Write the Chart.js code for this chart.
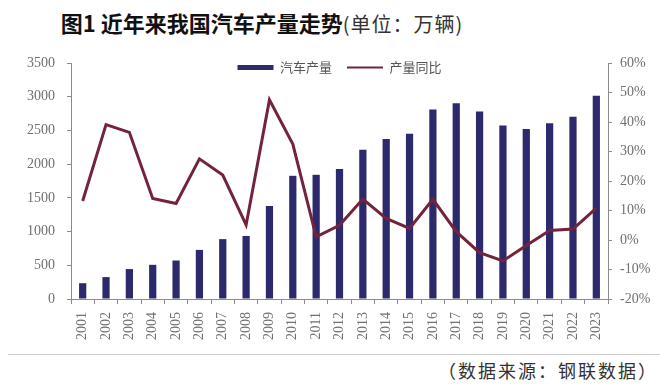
<!DOCTYPE html>
<html>
<head>
<meta charset="utf-8">
<script src="https://cdn.jsdelivr.net/npm/chart.js@4/dist/chart.umd.min.js"></script>
<style>
  html, body { margin: 0; padding: 0; background: #fff; }
  #page { position: relative; width: 660px; height: 390px; overflow: hidden; }
  #title {
    position: absolute; left: 0; top: 6px; width: 660px; text-align: center;
    font-family: "Noto Sans CJK SC", sans-serif; font-size: 22px; font-weight: bold; color: #111;
    margin-left: -68px;
  }
  #title span { font-weight: normal; font-size: 20px; color: #333; letter-spacing: 1px; }
  #chartBox { position: absolute; left: 0; top: 40px; width: 660px; height: 310px; }
  #rule { position: absolute; left: 8px; right: 0; top: 354px; border-top: 1px solid #cfcfcf; }
  #source {
    position: absolute; right: 2px; top: 357px; letter-spacing: 2px;
    font-family: "Noto Sans CJK SC", sans-serif; font-size: 18px; color: #333;
  }
</style>
</head>
<body>
<div id="page">
  <div id="title">图1 近年来我国汽车产量走势<span>(单位：万辆)</span></div>
  <div id="chartBox"><canvas id="chart"></canvas></div>
  <div id="rule"></div>
  <div id="source">（数据来源：钢联数据）</div>
</div>
<script>
// --- data ---
const years = ['2001', '2002', '2003', '2004', '2005', '2006', '2007', '2008', '2009', '2010', '2011', '2012',
               '2013', '2014', '2015', '2016', '2017', '2018', '2019', '2020', '2021', '2022', '2023'];
const output = [234, 325, 444, 507, 571, 728, 888, 935, 1379, 1827, 1842, 1927,
                2212, 2372, 2450, 2812, 2902, 2781, 2572, 2523, 2608, 2702, 3016];
const growth = [13.2, 39.1, 36.5, 14.1, 12.4, 27.5, 22.0, 5.1, 47.5, 32.5, 1.1, 5.0,
                13.9, 7.3, 3.9, 13.8, 2.8, -4.3, -7.1, -1.9, 3.2, 3.7, 10.8];

Chart.defaults.font.family = 'Liberation Serif';
const tickFont = { family: 'Liberation Serif', size: 14 };
const tickColor = '#707070';
const axisColor = '#8c8c8c';

// legend sits inside the plot area, just under its top edge
const legendInside = {
    id: 'legendInside',
    beforeInit(chart) {
        const legend = chart.legend;
        const fit = legend.fit;
        legend.fit = function () { fit.call(this); this.height = 0; };
    },
    afterLayout(chart) {
        const legend = chart.legend;
        legend.top = chart.chartArea.top - 17;
        legend.bottom = legend.top + 40;
    }
};

new Chart(document.getElementById('chart'), {
    type: 'bar',
    data: {
        labels: years,
        datasets: [{
            type: 'bar',
            label: '汽车产量',
            data: output,
            yAxisID: 'y',
            backgroundColor: '#2c2a6c',
            pointStyle: 'rect',
            barPercentage: 0.31,
            categoryPercentage: 1,
            order: 2
        }, {
            type: 'line',
            label: '产量同比',
            data: growth,
            yAxisID: 'y1',
            borderColor: '#74243a',
            backgroundColor: '#74243a',
            borderWidth: 3,
            pointRadius: 0,
            pointStyle: 'line',
            pointBorderWidth: 2,
            tension: 0,
            order: 1
        }]
    },
    options: {
        responsive: true,
        maintainAspectRatio: false,
        animation: false,
        layout: { padding: { top: 23, left: 0, right: 0, bottom: 0 } },
        plugins: {
            legend: {
                fullSize: false,
                labels: {
                    usePointStyle: true,
                    pointStyleWidth: 36,
                    boxHeight: 5,
                    padding: 15,
                    color: '#555',
                    font: { family: 'Noto Sans CJK SC', size: 13 },
                    sort: (a, b) => a.datasetIndex - b.datasetIndex
                }
            },
            tooltip: { enabled: false }
        },
        scales: {
            x: {
                grid: { display: true, drawOnChartArea: false, offset: true, tickLength: 5, color: axisColor },
                border: { color: axisColor },
                ticks: { color: tickColor, font: tickFont, minRotation: 90, maxRotation: 90, padding: 8, autoSkip: false },
                afterFit: (scale) => { scale.height = 51; }
            },
            y: {
                position: 'left',
                min: 0,
                max: 3500,
                grid: { drawOnChartArea: false, tickLength: 4, color: axisColor },
                border: { color: axisColor },
                ticks: { stepSize: 500, color: tickColor, font: tickFont, padding: 12, callback: (v) => String(v) },
                afterFit: (scale) => { scale.width = 71; }
            },
            y1: {
                position: 'right',
                min: -20,
                max: 60,
                grid: { drawOnChartArea: false, tickLength: 4, color: axisColor },
                border: { color: axisColor },
                ticks: {
                    stepSize: 10, color: tickColor, font: tickFont, padding: 8,
                    callback: (v) => v + '%'
                },
                afterFit: (scale) => { scale.width = 52; }
            }
        }
    },
    plugins: [legendInside]
});
</script>
</body>
</html>
